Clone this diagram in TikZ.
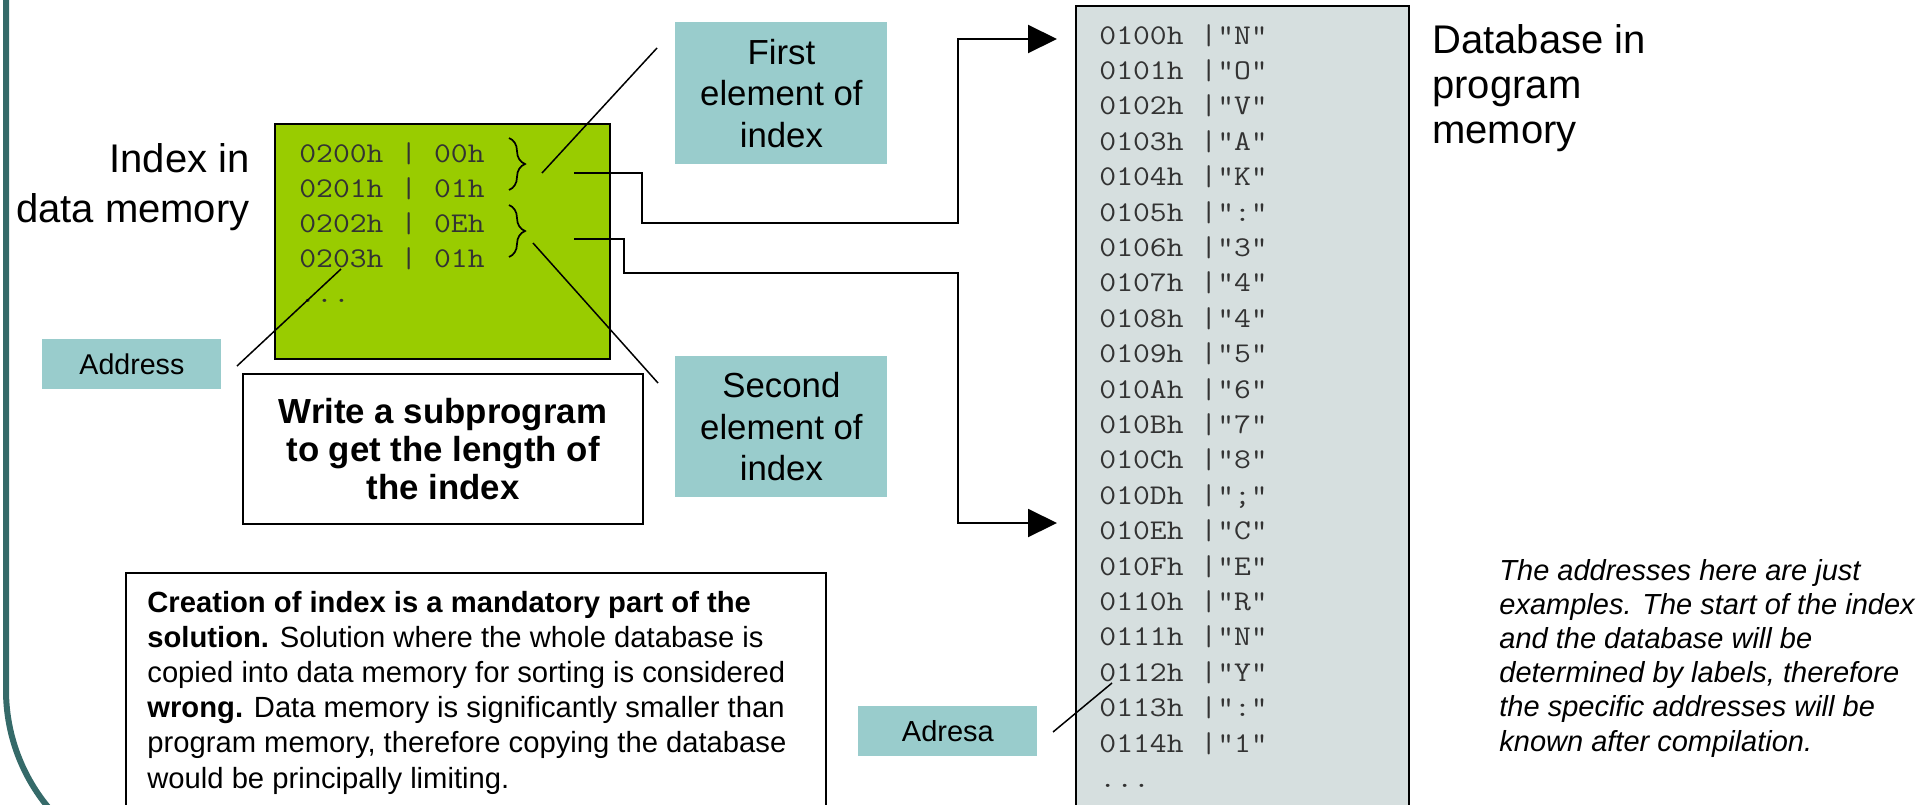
\documentclass[tikz,border=0pt]{standalone}
\usepackage{fontspec}
\usepackage{graphicx}
\setmainfont{Liberation Sans}
\usetikzlibrary{arrows.meta,decorations.pathreplacing}
\definecolor{grn}{HTML}{99CC00}
\definecolor{tealc}{HTML}{99CCCC}
\definecolor{dbfill}{HTML}{D6DFDF}
\definecolor{bordc}{HTML}{356A69}
\definecolor{monoc}{HTML}{333333}
\newcommand{\wideMono}[1]{\scalebox{1.143}[1]{#1}}
\begin{document}
\begin{tikzpicture}[x=0.5pt,y=-0.5pt,
  tealbox/.style={fill=tealc, inner sep=0pt, anchor=north west, align=center, font=\fontsize{17.4}{20.75}\selectfont},
  plainbox/.style={draw, line width=1pt, anchor=north west, inner sep=0pt},
  ptr/.style={line width=0.75pt},
  conn/.style={line width=1pt, line join=miter, -{Triangle[length=14.5pt,width=14pt]}},
  mono/.style={font=\ttfamily\fontsize{14.3}{17}\selectfont, text=monoc, inner sep=0pt, anchor=base west},
  bracestyle/.style={line width=0.85pt, decorate, decoration={brace, amplitude=8pt}},
]
\useasboundingbox (0,0) rectangle (1930,804);
\clip (0,0) rectangle (1930,804);

% left border
\draw[line width=3pt, bordc] (6,-10) -- (6,690) arc[start angle=180, end angle=245, radius=92pt];

% database box
\node[plainbox, fill=dbfill, minimum width=166.5pt, minimum height=420pt] (db) at (1075,5) {};
\foreach \t [count=\i] in {0100h |"N",0101h |"O",0102h |"V",0103h |"A",0104h |"K",0105h |":",0106h |"3",0107h |"4",0108h |"4",0109h |"5",010Ah |"6",010Bh |"7",010Ch |"8",010Dh |";",010Eh |"C",010Fh |"E",0110h |"R",0111h |"N",0112h |"Y",0113h |":",0114h |"1"}
  \node[mono] (db\i) at (1099,{44+35.4*(\i-1)}) {\wideMono{\t}};
\node[mono] (db22) at (1099,{44+35.4*21}) {\wideMono{...}};

% index box
\node[plainbox, fill=grn, minimum width=167.5pt, minimum height=117.5pt] (idx) at (274,123) {};
\foreach \t [count=\i] in {0200h | 00h,0201h | 01h,0202h | 0Eh,0203h | 01h}
  \node[mono] (ix\i) at (299,{162+35*(\i-1)}) {\wideMono{\t}};
\node[mono] (ix5) at (299,302) {\wideMono{...}};
\draw[bracestyle] (509,138) -- (509,190) coordinate[midway] (br1);
\draw[bracestyle] (509,205) -- (509,257) coordinate[midway] (br2);

% labels
\node[anchor=base east, inner sep=0pt] (idxlabel) at (250,172)
  {\parbox[t]{160pt}{\raggedleft\fontsize{20}{25}\selectfont Index in\\data memory}};
\node[anchor=base west, inner sep=0pt] (dblabel) at (1432,53)
  {\parbox[t]{160pt}{\raggedright\fontsize{20}{22.5}\selectfont Database in\\program\\memory}};

% teal callouts
\node[tealbox, minimum width=106pt, minimum height=71pt] (first) at (675,22) {First\\element of\\index};
\node[tealbox, minimum width=106pt, minimum height=70.5pt] (second) at (675,356) {Second\\element of\\index};
\node[tealbox, minimum width=89.5pt, minimum height=25pt, font=\fontsize{14.3}{17}\selectfont] (address) at (42,339) {Address};
\node[tealbox, minimum width=89.5pt, minimum height=25pt, font=\fontsize{14.5}{17}\selectfont] (adresa) at (858,706) {Adresa};

% task box
\node[plainbox, fill=white, minimum width=200pt, minimum height=75pt, align=center,
  font=\bfseries\fontsize{17.4}{19}\selectfont] (write) at (242,373) {Write a subprogram\\to get the length of\\the index};

% creation box
\node[plainbox, line width=0.8pt, minimum width=350pt, minimum height=130pt] (creation) at (125,572) {};
\node[anchor=base west, inner sep=0pt] (creationtext) at (147,612)
  {\parbox[t]{335pt}{\raggedright\fontsize{14.6}{17.6}\selectfont
  \textbf{Creation of index is a mandatory part of the}\\
  \textbf{solution.} Solution where the whole database is\\
  copied into data memory for sorting is considered\\
  \textbf{wrong.} Data memory is significantly smaller than\\
  program memory, therefore copying the database\\
  would be principally limiting.}};

% italic note
\node[anchor=base west, inner sep=0pt] (note) at (1499,580)
  {\parbox[t]{215pt}{\raggedright\itshape\fontsize{14.5}{17.1}\selectfont
  The addresses here are just\\
  examples. The start of the index\\
  and the database will be\\
  determined by labels, therefore\\
  the specific addresses will be\\
  known after compilation.}};

% pointer lines
\coordinate (p1a) at (657,48);  \coordinate (p1b) at (542,173);
\coordinate (p2a) at (658,383); \coordinate (p2b) at (533,243);
\coordinate (p3a) at (237,366); \coordinate (p3b) at (341,269);
\coordinate (p4a) at (1053,732); \coordinate (p4b) at (1112,683);
\draw[ptr] (p1a) -- (p1b);
\draw[ptr] (p2a) -- (p2b);
\draw[ptr] (p3a) -- (p3b);
\draw[ptr] (p4a) -- (p4b);

% connectors
\coordinate (c1s) at (574,173); \coordinate (c1e) at (1057,39);
\coordinate (c2s) at (574,239); \coordinate (c2e) at (1057,523);
\draw[conn] (c1s) -- (642,173) -- (642,223) -- (958,223) -- (958,39) -- (c1e);
\draw[conn] (c2s) -- (624,239) -- (624,273) -- (958,273) -- (958,523) -- (c2e);
\end{tikzpicture}
\end{document}
